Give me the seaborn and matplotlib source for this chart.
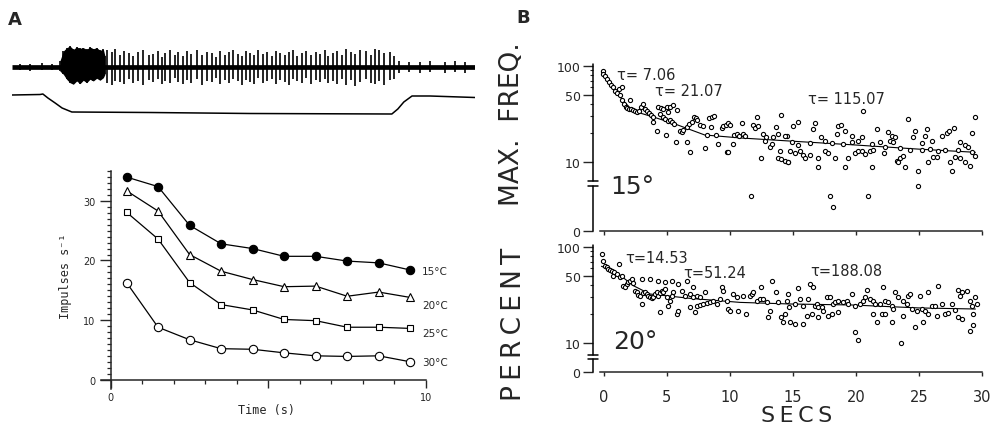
import matplotlib
matplotlib.use("Agg")
import matplotlib.pyplot as plt
import seaborn as sns
from matplotlib.ticker import FixedLocator, NullFormatter

sns.set_style("ticks")
plt.rcParams['font.family'] = ['DejaVu Sans']

# ---- panel A, nerve record (time in s, heights in trace units) ----
spike_t = [0.25, 0.57, 0.95, 1.27,
           3.02, 3.17, 3.27, 3.43, 3.56, 3.71, 3.84, 4.0, 4.16, 4.35, 4.48, 4.63, 4.76, 4.86, 5.02, 5.17,
           5.27, 5.43, 5.56, 5.68, 5.87, 6.03, 6.19, 6.35, 6.48, 6.6, 6.76, 6.89, 7.02, 7.17, 7.3, 7.43,
           7.56, 7.68, 7.81, 7.97, 8.1, 8.25, 8.38, 8.51, 8.67, 8.79, 8.92, 9.05, 9.21, 9.33, 9.49, 9.65,
           9.78, 9.94, 10.03, 10.19, 10.32, 10.48, 10.6, 10.76, 10.89, 11.05, 11.24, 11.4, 11.52, 11.65,
           11.81, 12.0, 12.13,
           12.3, 12.6, 12.95, 13.27, 13.75, 14.06, 14.38]
spike_up = [3, 3, 4, 3,
            17, 15, 18, 12, 16, 14, 11, 15, 17, 12, 13, 16, 10, 14, 17, 12, 15, 11, 16, 13, 17, 12, 15, 14,
            10, 16, 12, 15, 17, 13, 11, 16, 14, 12, 17, 13, 15, 11, 16, 14, 12, 15, 17, 11, 14, 16, 12, 15,
            13, 17, 11, 14, 16, 12, 18, 15, 13, 17, 16, 12, 18, 17, 14, 15, 11,
            6, 5, 5, 6, 5, 6, 5]
spike_down = [3, 4, 3, 3,
              16, 18, 14, 15, 17, 12, 16, 14, 18, 13, 15, 12, 17, 14, 16, 11, 15, 17, 13, 16, 12, 18, 14,
              15, 11, 17, 13, 16, 12, 14, 18, 13, 15, 17, 11, 16, 14, 12, 17, 13, 15, 18, 12, 14, 16, 11,
              17, 13, 15, 12, 16, 14, 17, 12, 18, 13, 19, 15, 12, 16, 17, 14, 18, 13, 12,
              6, 5, 6, 5, 6, 5, 6]
burst_t = [1.52, 1.63, 1.735, 1.84, 1.947, 2.053, 2.159, 2.264, 2.37, 2.476, 2.582, 2.688, 2.794,
           2.9, 2.952]
burst_top = [6, 16, 19.3, 21, 17.7, 20, 18.7, 19.3, 17.7, 20, 18.3, 19.3, 16.7, 17.7, 11]
burst_bot = [-4, -7.3, -12.3, -15.7, -17.3, -14, -16.7, -13.3, -15.7, -12.3, -14, -11.3, -13.3,
             -10.7, -7.3]
stim_t = [0, 0.89, 0.98, 1.14, 1.37, 1.59, 1.9, 4.38, 7.56, 12.06, 12.25, 12.44, 12.7, 13.27, 14.7]
stim_v = [-28, -27.5, -27, -31, -36, -41, -45, -45.5, -46.5, -47, -42, -35, -29, -29, -30.5]

# ---- panel A, impulses per second ----
time_s = [0.5, 1.5, 2.5, 3.5, 4.5, 5.5, 6.5, 7.5, 8.5, 9.5]
imp_15 = [34.0, 32.4, 25.9, 22.8, 22.0, 20.7, 20.7, 19.9, 19.6, 18.4]
imp_20 = [31.7, 28.3, 21.0, 18.2, 16.8, 15.6, 15.7, 14.0, 14.7, 13.8]
imp_25 = [28.1, 23.6, 16.3, 12.6, 11.7, 10.1, 9.9, 8.8, 8.8, 8.6]
imp_30 = [16.3, 8.8, 6.7, 5.2, 5.1, 4.5, 4.0, 3.9, 4.0, 3.0]
temp_labels = ["15°C", "20°C", "25°C", "30°C"]

# ---- panel B, 15 deg: max. frequency ----
b15_t = [-0.1, -0.05, 0.1, 0.26, 0.42, 0.58, 0.74, 0.9, 1.0, 1.16, 1.43, 1.27, 1.43, 1.59, 1.75, 1.85,
         2.0, 2.17, 2.33, 2.49, 2.65, 2.8, 2.96, 3.12, 3.25, 3.44, 3.6, 3.76, 3.86, 3.92, 4.18, 2.06,
         4.31, 4.5, 4.71, 4.97, 5.24, 5.45, 5.77, 5.1, 4.44, 4.66, 4.87, 5.08, 5.24, 5.4, 5.56, 4.92,
         5.71, 6.56, 6.83, 6.03, 6.16, 6.3, 6.56, 6.72, 6.96, 7.14, 7.3, 7.41, 7.62, 7.88, 8.36, 8.57,
         8.73, 8.15, 8.47, 8.89, 9.07, 8.02, 9.74, 9.87, 9.34, 9.47, 9.68, 9.87, 10.0, 10.26, 10.32,
         10.53, 10.74, 10.93, 11.06, 11.22, 11.8, 12.01, 12.12, 12.25, 12.65, 12.86, 12.78, 13.17,
         13.31, 13.39, 13.7, 13.84, 14.1, 14.5, 12.51, 13.84, 14.1, 14.37, 14.63, 13.97, 11.67,
         20.6, 24.17, 29.46, 15.04, 15.44, 16.76, 16.63, 18.61, 18.82, 18.48, 19.14, 19.67, 20.46,
         21.66, 22.58, 22.85, 23.11, 22.71, 22.98, 24.7, 25.62, 25.49, 24.57, 25.23, 26.02, 26.81,
         27.21, 27.4, 27.82, 29.19, 28.27, 28.67, 28.93, 14.38, 14.91, 15.44, 16.36, 17.24, 17.55,
         18.08, 19.01, 19.67, 20.2, 21.26, 21.92, 22.32, 23.51, 24.3, 25.23, 25.89, 26.55, 27.08,
         28.14, 29.19, 14.78, 15.17, 15.57, 15.83, 15.97, 16.36, 17.03, 17.55, 17.82, 18.35, 19.41,
         19.94, 20.2, 20.46, 20.73, 21.13, 21.39, 22.26, 23.24, 23.51, 23.77, 23.37, 23.9, 24.96,
         25.7, 26.15, 26.42, 27.48, 27.87, 28.27, 28.67, 29.06, 29.46, 14.64, 17.03, 19.14, 21.26,
         27.61, 24.96, 17.95, 20.94, 18.22]
b15_f = [88, 82.6, 77.5, 72.5, 68, 63.6, 60, 55.4, 52, 57, 60, 49.2, 43.7, 40.3, 37.8, 36.6,
         35.6, 35.6, 34.9, 34.4, 33, 33.9, 37.2, 40.3, 35.6, 33.9, 32.2, 31.2, 29.3, 26, 21, 43.7,
         37.8, 36.6, 35.6, 37.2, 37.8, 39.6, 34.9, 33, 31.7, 29.3, 28.2, 27.1, 27.5, 26, 25, 19.2,
         16.2, 16.2, 12.9, 21.3, 20.5, 21.6, 23.1, 25, 26, 29.8, 28.9, 27.5, 24.6, 23.5, 28.9, 29.8,
         30.5, 19.4, 23.1, 19.4, 15.5, 14.1, 12.9, 12.9, 22.8, 23.5, 24.6, 25.4, 24.6, 15.5, 19.2,
         19.7, 18.9, 25.4, 19.7, 18.9, 24.6, 22.8, 29.3, 23.5, 19.7, 18.2, 16.6, 14.3,
         15.5, 18.5, 23.1, 19.7, 31.2, 18.9, 11.1, 11.1, 10.9, 10.4, 10.0, 13.2, 5.1,
         33.9, 28.2, 29.3, 24, 26, 25.4, 22.2, 24, 24.6, 19.7, 21, 18.9, 18.2,
         22.2, 20.5, 18.9, 18.2, 16.8, 16.2, 21.3, 22.2, 18.9, 18.5, 15.8, 16.6, 18.9,
         20, 21, 22.8, 20, 16.2, 15.2, 14.3, 18.9, 16.2, 15.2, 15.8, 18.2, 16.6,
         15.8, 15.5, 16.2, 16.6, 15.5, 16.2, 14.5, 14, 13.4, 13.4, 13.6, 13.2, 13.4,
         13.4, 12.7, 13.2, 12.4, 13.2, 11.9, 11.1, 11.9, 11.1, 13.2, 12.4, 11.1, 11.1,
         12.4, 13, 13.2, 12.2, 13.2, 13.4, 12.4, 10.4, 11.1, 11.7, 10.0, 9.3, 8.7,
         10.2, 11.3, 11.3, 10.2, 11.3, 11.1, 10.2, 9.5, 11.5, 10.2, 9.3, 9.3, 9.3,
         8.7, 6.5, 5.1, 5.1, 3.4]
fit15_t = [-0.2, 1.0, 2.06, 3.0, 3.92, 5.77, 8.0, 10.8, 14.8, 19.7, 25.0, 29.5]
fit15_f = [86, 52, 36.6, 32, 29.5, 24.6, 19.2, 17.9, 16.6, 15.2, 13.7, 12.7]
tau15 = ["7.06", "21.07", "115.07"]

# ---- panel B, 20 deg: percent ----
b20_t = [-0.15, -0.05, 0.08, 0.21, 0.34, 0.48, 0.61, 0.74, 0.79, 1.01, 1.22, 1.27, 1.4, 1.53, 1.67,
         1.8, 1.93, 2.06, 2.2, 2.33, 2.46, 2.59, 2.72, 2.86, 2.99, 3.12, 3.25, 3.39, 3.52, 3.65, 3.78,
         3.92, 4.05, 4.18, 4.31, 4.44, 4.58, 4.71, 4.84, 4.97, 5.11, 5.24, 5.37, 5.5, 2.99, 3.65, 4.31,
         4.84, 5.37, 5.9, 6.56, 7.09, 4.44, 5.77, 5.9, 6.16, 6.43, 6.83, 7.09, 7.35, 7.62, 8.02, 6.83,
         7.22, 7.35, 7.62, 7.88, 8.15, 8.41, 8.68, 8.94, 9.21, 9.34, 9.47, 9.74, 9.87, 10.0, 10.26,
         10.53, 10.66, 11.06, 11.32, 11.59, 11.72, 11.85, 12.12, 12.38, 12.51, 12.65, 12.91, 13.31,
         13.17, 13.04, 13.7, 13.84, 14.1, 14.23, 14.5, 14.71,
         14.64, 15.44, 15.57, 16.23, 16.36, 16.63, 15.17, 15.83, 16.76, 16.89, 17.03, 17.29, 17.42,
         17.69, 17.95, 18.22, 18.35, 18.61, 19.01, 19.27, 19.41, 19.67, 19.94, 20.33, 20.6, 20.73,
         20.86, 21.13, 21.39, 21.52, 21.92, 22.18, 22.32, 22.58, 22.85, 23.11, 23.37, 23.77, 24.17,
         24.3, 24.04, 24.43, 24.83, 25.09, 25.23, 25.49, 25.76, 26.02, 26.28, 26.55, 26.81, 27.08,
         27.34, 27.61, 27.87, 28.14, 28.27, 28.4, 28.8, 29.06, 29.19, 29.46, 29.59, 29.33, 14.38,
         14.78, 15.17, 15.83, 16.1, 16.5, 17.03, 17.82, 18.08, 18.61, 21.39, 21.66, 22.05, 22.32,
         22.85, 22.98, 23.77, 24.7, 25.36, 25.76, 26.42, 28.14, 28.4, 29.06, 29.33, 19.94, 20.15, 23.59]
b20_p = [85.5, 72, 63.9, 61.4, 59, 57.6, 55.8, 50.3, 54.5, 52.3, 66.5, 48.3, 50.3, 39.6, 38.6,
         41.2, 42.9, 44.6, 46.4, 41.9, 35.1, 33.7, 31.9, 31.1, 25.5, 32.9, 33.7, 32.4, 31.1, 29.9, 29.2,
         30.4, 32.4, 33.7, 31.1, 32.9, 35.1, 33.7, 36.5, 29.9, 24.5, 27.6, 31.1, 33.7, 46.4, 46.4, 44.6,
         42.9, 44.6, 41.2, 44.6, 38, 20.9, 20.1, 21.7, 34.5, 31.1, 32.4, 30.4, 31.1, 29.9, 33.7, 23.5,
         20.9, 24.5, 25.1, 25.5, 25.9, 26.5, 27.6, 25.5, 28.7, 38, 35.1, 27.6, 22.6, 21.7, 32.4,
         29.9, 21.7, 31.1, 20.1, 31.1, 32.4, 33.7, 27.6, 28.7, 38, 28.7, 26.5, 44.6,
         21.7, 18.5, 33.7, 26.5, 18.5, 16.4, 27.6, 23.5,
         32.4, 37.4, 28.7, 28.7, 41.2, 38, 25.5, 24.5, 24.5, 25.5, 23.5, 23.9, 21.7,
         29.9, 30.4, 25.5, 26.5, 27.6, 26.5, 27.6, 25.5, 32.4, 24.5, 25.5, 27.6, 29.9,
         35.6, 28.7, 27.6, 25.5, 25.5, 38.6, 27.6, 26.5, 24.5, 33.7, 29.9, 27.6, 31.1,
         32.4, 25.5, 22.6, 21.7, 31.1, 22.6, 21.7, 33.7, 24.5, 24.5, 39.6, 25.5, 20.1,
         20.4, 25.5, 22, 35.6, 31.1, 33.7, 35.1, 27.6, 24.5, 29.9, 25.5, 20.1, 20.1,
         16.4, 15.8, 15.8, 19.3, 20.1, 18.5, 19.3, 20.1, 20.9, 20.1, 16.4, 20.1, 20.1,
         16.4, 22.6, 19.3, 14.6, 16.4, 20.1, 19.3, 18.5, 17.8, 13.4, 15.5, 12.9, 10.7, 9.9]
fit20_t = [-0.2, 1.0, 2.33, 3.65, 6.83, 10.8, 14.77, 19.67, 25.0, 29.5]
fit20_p = [63, 54.5, 39.6, 32.4, 29.2, 26.5, 25.5, 24.9, 23.2, 22.6]
tau20 = ["14.53", "51.24", "188.08"]

W, H = 1001, 431
fig = plt.figure(figsize=(W / 100, H / 100), dpi=100)
THIN = "\u2009"


def box(l, t, r, b):
    return [l / W, 1 - b / H, (r - l) / W, (b - t) / H]


def ftext(x, y, s, **kw):
    fig.text(x / W, 1 - y / H, s, **kw)


def spaced(word):
    return THIN.join(word)


# ---------------- trace ----------------
ax_tr = fig.add_axes(box(12, 45, 475, 120))
ax_tr.plot([0, 14.7], [0, 0], color="black", lw=3.4, solid_capstyle="butt")
ax_tr.fill_between(burst_t, burst_bot, burst_top, color="black", lw=0)
ax_tr.vlines(burst_t, burst_bot, burst_top, color="black", lw=1.2)
ax_tr.vlines(spike_t, [-d for d in spike_down], spike_up, color="black", lw=1.2)
sns.lineplot(x=stim_t, y=stim_v, ax=ax_tr, color="black", lw=1.1, sort=False)
ax_tr.set_xlim(0, 14.7)
ax_tr.set_ylim(-52, 23)
ax_tr.axis("off")

# ---------------- A: impulses ----------------
ax_a = fig.add_axes(box(101.3, 172.1, 426, 390.2))
series = [imp_15, imp_20, imp_25, imp_30]
mk = [("o", "black", 6.0), ("^", "white", 5.5), ("s", "white", 4.2), ("o", "white", 6.0)]
for vals, (m, fc, ms) in zip(series, mk):
    sns.lineplot(x=time_s, y=vals, ax=ax_a, color="black", lw=0.9, marker=m,
                 markersize=ms, markerfacecolor=fc, markeredgecolor="black",
                 markeredgewidth=0.8)
ax_a.set_xlim(-0.3, 10)
ax_a.set_ylim(-1.6, 35)
for s in ["top", "right"]:
    ax_a.spines[s].set_visible(False)
ax_a.spines["left"].set_position(("data", 0))
ax_a.spines["bottom"].set_position(("data", 0))
ax_a.spines["left"].set_bounds(-1.6, 35)
ax_a.spines["bottom"].set_bounds(-0.3, 10)
for s in ["left", "bottom"]:
    ax_a.spines[s].set_linewidth(1.1)
ax_a.xaxis.set_major_locator(FixedLocator([0, 5, 10]))
ax_a.set_xticklabels(["0", "", "10"])
ax_a.xaxis.set_minor_locator(FixedLocator(list(range(1, 10))))
ax_a.yaxis.set_major_locator(FixedLocator([0, 10, 20, 30]))
ax_a.yaxis.set_minor_locator(FixedLocator(list(range(0, 36))))
ax_a.tick_params(axis="both", which="major", direction="out", length=6, width=1,
                 labelsize=7, pad=3)
ax_a.tick_params(axis="y", which="major", length=8)
ax_a.tick_params(axis="both", which="minor", direction="out", length=3, width=0.9)
ax_a.set_xlabel("")
ax_a.set_ylabel("")
lab_y = [18.3, 12.6, 7.8, 3.0]
for t, y in zip(temp_labels, lab_y):
    ax_a.text(9.88, y, t, fontsize=7.5, va="center", ha="left")
ftext(66, 276, "Impulses s⁻¹", rotation=90, fontsize=8.5, family="DejaVu Sans Mono",
      ha="center", va="center")
ftext(267, 411, "Time (s)", fontsize=8.5, family="DejaVu Sans Mono", ha="center", va="center")


# ---------------- B ----------------
def broken_axis(ax, lo_top, hi_bot, top):
    tr = ax.get_yaxis_transform()
    kw = dict(transform=tr, color="black", lw=1.1, clip_on=False)
    ax.plot([0, 0], [0, lo_top], **kw)
    ax.plot([0, 0], [hi_bot, top], **kw)
    ax.plot([-0.012, 0.012], [lo_top, lo_top], **kw)
    ax.plot([-0.012, 0.012], [hi_bot, hi_bot], **kw)


def style_b(ax, linscale, lo_top, hi_bot, show_x):
    ax.set_yscale("symlog", linthresh=10, linscale=linscale)
    for s in ["top", "right", "left"]:
        ax.spines[s].set_visible(False)
    ax.spines["bottom"].set_bounds(-0.3, 30)
    ax.spines["bottom"].set_linewidth(1.1)
    broken_axis(ax, lo_top, hi_bot, 104)
    ax.set_xlim(-0.87, 30)
    ax.set_ylim(0, 105)
    ax.yaxis.set_major_locator(FixedLocator([0, 10, 50, 100]))
    ax.set_yticklabels(["0", "10", "50", "100"])
    ax.yaxis.set_minor_locator(FixedLocator([20, 30, 40, 60, 70, 80, 90]))
    ax.yaxis.set_minor_formatter(NullFormatter())
    ax.xaxis.set_major_locator(FixedLocator(list(range(0, 31, 5))))
    if not show_x:
        ax.set_xticklabels([])
    ax.tick_params(axis="y", which="major", direction="out", length=7, width=1,
                   labelsize=9, pad=2)
    ax.tick_params(axis="y", which="minor", direction="out", length=2.5, width=0.8)
    ax.tick_params(axis="x", which="major", direction="out", length=3, width=1,
                   labelsize=10.5, pad=9)
    ax.set_xlabel("")
    ax.set_ylabel("")


ax_b1 = fig.add_axes(box(593, 64.7, 981.7, 231.7))
sns.lineplot(x=fit15_t, y=fit15_f, ax=ax_b1, color="black", lw=0.8)
sns.scatterplot(x=b15_t, y=b15_f, ax=ax_b1, marker="o", s=9, color="white",
                edgecolor="black", linewidth=0.8, zorder=3)
style_b(ax_b1, 0.637, 6.5, 7.3, False)

ax_b2 = fig.add_axes(box(593, 246, 981.7, 373))
sns.lineplot(x=fit20_t, y=fit20_p, ax=ax_b2, color="black", lw=0.8)
sns.scatterplot(x=b20_t, y=b20_p, ax=ax_b2, marker="o", s=9, color="white",
                edgecolor="black", linewidth=0.8, zorder=3)
style_b(ax_b2, 0.272, 4.5, 5.9, True)

# tau annotations
for (x, y), tau in zip([(617, 75), (655, 92), (808, 99)], tau15):
    ftext(x, y, "τ= " + tau, fontsize=10.5, va="center", ha="left")
for (x, y), tau in zip([(625, 259), (683, 273), (810, 272)], tau20):
    ftext(x, y, "τ=" + tau, fontsize=10.5, va="center", ha="left")

ftext(632, 187, "15°", fontsize=18, ha="center", va="center")
ftext(635, 342, "20°", fontsize=18, ha="center", va="center")
ftext(512, 124, "MAX.  FREQ.", rotation=90, fontsize=19, ha="center", va="center")
ftext(514, 324, spaced("PERCENT"), rotation=90, fontsize=19, ha="center", va="center")
ftext(797, 416, spaced("SECS"), fontsize=16, ha="center", va="center")

ftext(15, 20, "A", fontsize=13, fontweight="bold", ha="center", va="center")
ftext(523, 18, "B", fontsize=13, fontweight="bold", ha="center", va="center")

fig.savefig("out.png", dpi=100)
